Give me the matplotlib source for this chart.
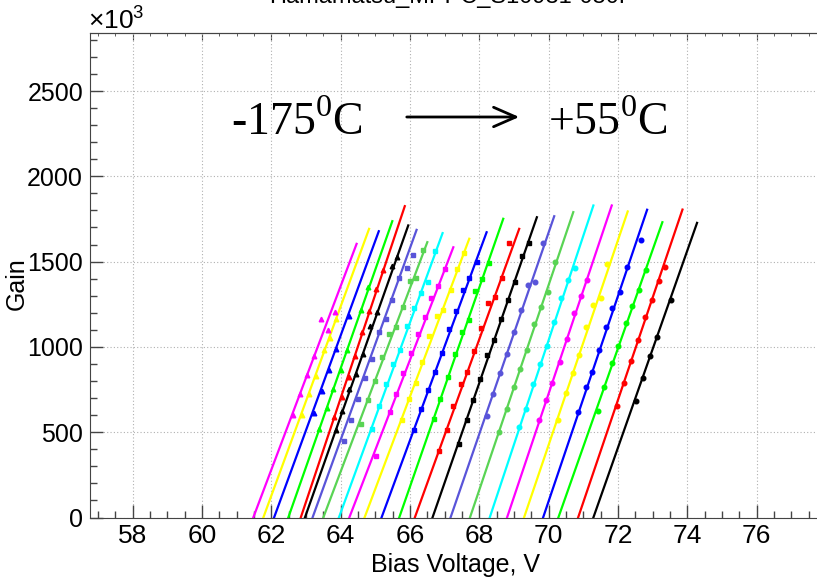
import matplotlib.pyplot as plt
from matplotlib.ticker import MultipleLocator
from matplotlib.patches import FancyArrowPatch

# Gain vs bias voltage, one straight-line fit per temperature (-175 C ... +55 C)
# gains are in units of 10^3

colors = ['#ff00ff', '#ffff00', '#0000ff', '#00ff00', '#ff0000', '#000000', '#5954d9', '#59d454', '#00ffff',
          '#ff00ff', '#ffff00', '#0000ff', '#00ff00', '#ff0000', '#000000', '#5954d9', '#59d454', '#00ffff',
          '#ff00ff', '#ffff00', '#0000ff', '#00ff00', '#ff0000', '#000000']
markers = ['^', '^', '^', '^', '^', '^', 's', 's', 's', 's', 's', 's', 's', 's', 's',
           'o', 'o', 'o', 'o', 'o', 'o', 'o', 'o', 'o']

# fit lines: breakdown voltage (gain = 0) and end point of the drawn fit
v_zero = [61.48, 61.77, 62.08, 62.49, 62.85, 62.97, 63.19, 63.50, 63.95, 64.25, 64.69, 65.18,
          65.69, 66.14, 66.65, 67.17, 67.73, 68.30, 68.80, 69.29, 69.84, 70.28, 70.85, 71.29]
v_top = [64.46, 64.82, 65.10, 65.49, 65.85, 65.95, 66.19, 66.50, 66.94, 67.25, 67.71, 68.21,
         68.69, 69.15, 69.66, 70.16, 70.71, 71.29, 71.82, 72.28, 72.84, 73.28, 73.86, 74.28]
g_top = [1604, 1692, 1678, 1737, 1825, 1712, 1686, 1614, 1667, 1584, 1634, 1672,
         1751, 1692, 1760, 1766, 1790, 1829, 1829, 1794, 1804, 1731, 1805, 1727]

# measured points
v_meas = [
    [62.63, 62.83, 63.04, 63.24, 63.42, 63.64, 63.84],
    [62.88, 63.09, 63.29, 63.52, 63.69, 63.86],
    [63.23, 63.45, 63.66, 63.86, 64.24],
    [63.38, 63.60, 63.79, 64.00, 64.19, 64.58, 64.80],
    [63.81, 64.03, 64.24, 64.42, 64.62, 64.82, 65.01, 65.21],
    [63.86, 64.05, 64.25, 64.44, 64.65, 64.84, 65.06, 65.49, 65.63],
    [64.09, 64.29, 64.49, 64.69, 64.89, 65.10, 65.30, 65.49, 65.69, 65.90, 66.08],
    [64.58, 64.78, 64.99, 65.19, 65.39, 65.59, 65.79, 66.00, 66.17, 66.38],
    [64.91, 65.11, 65.31, 65.52, 65.71, 65.90, 66.11, 66.32, 66.53, 66.72],
    [65.01, 65.42, 65.61, 65.81, 66.02, 66.22, 66.43, 66.62, 66.81, 67.01],
    [65.78, 65.97, 66.16, 66.36, 66.55, 66.79, 66.96, 67.17, 67.36, 67.56],
    [66.11, 66.32, 66.53, 66.72, 66.91, 67.12, 67.32, 67.52, 67.71, 67.92],
    [66.69, 66.88, 67.09, 67.29, 67.49, 67.69, 67.88, 68.08, 68.29],
    [66.84, 67.06, 67.25, 67.46, 67.65, 67.85, 68.05, 68.26, 68.45, 68.64, 68.85],
    [67.42, 67.63, 67.82, 68.03, 68.23, 68.42, 68.62, 68.82, 69.03, 69.22, 69.42],
    [68.21, 68.40, 68.60, 68.80, 69.01, 69.21, 69.41, 69.60, 69.83],
    [68.57, 68.79, 68.99, 69.18, 69.37, 69.58, 69.77, 69.97, 70.18],
    [69.15, 69.36, 69.56, 69.75, 69.94, 70.15, 70.35, 70.56, 70.76],
    [69.73, 69.92, 70.11, 70.32, 70.52, 70.73, 70.92, 71.12],
    [70.28, 70.49, 70.69, 70.88, 71.07, 71.29, 71.50, 71.69],
    [70.85, 71.07, 71.26, 71.46, 71.65, 71.84, 72.06, 72.25, 72.65],
    [71.41, 71.59, 71.82, 72.01, 72.22, 72.41, 72.61, 72.81],
    [71.96, 72.17, 72.37, 72.57, 72.78, 72.97, 73.17, 73.36],
    [72.51, 72.71, 72.92, 73.12, 73.52],
]
g_meas = [
    [598, 725, 836, 946, 1166, 1102, 1207],
    [598, 721, 827, 979, 1051, 1165],
    [611, 739, 862, 985, 1184],
    [520, 643, 754, 862, 983, 1219, 1350],
    [588, 705, 822, 945, 1090, 1213, 1340, 1448],
    [510, 627, 754, 842, 959, 1125, 1203, 1477, 1526],
    [447, 573, 696, 819, 930, 1086, 1165, 1272, 1405, 1464, 1536],
    [549, 686, 799, 940, 1077, 1115, 1233, 1389, 1403, 1569],
    [520, 651, 784, 901, 983, 1125, 1229, 1317, 1379, 1561],
    [363, 617, 725, 846, 963, 1073, 1174, 1285, 1356, 1458],
    [573, 696, 787, 910, 1063, 1184, 1217, 1336, 1454, 1549],
    [514, 637, 748, 852, 965, 1106, 1209, 1331, 1405, 1496],
    [579, 696, 826, 960, 1086, 1155, 1327, 1399, 1491],
    [389, 514, 651, 780, 852, 975, 1110, 1256, 1295, 1403, 1610],
    [428, 569, 690, 813, 950, 1038, 1165, 1276, 1379, 1530, 1608],
    [594, 725, 846, 960, 1086, 1219, 1360, 1383, 1610],
    [500, 637, 764, 873, 979, 1135, 1233, 1321, 1497],
    [529, 637, 784, 897, 1008, 1145, 1288, 1393, 1464],
    [569, 690, 787, 910, 1047, 1198, 1296, 1393],
    [569, 729, 846, 950, 1116, 1243, 1288, 1487],
    [617, 764, 852, 979, 1116, 1227, 1321, 1467, 1628],
    [627, 764, 904, 1008, 1139, 1239, 1336, 1448],
    [656, 790, 920, 1038, 1174, 1276, 1385, 1467],
    [682, 819, 944, 1057, 1276],
]

plt.rcParams['font.family'] = 'Liberation Sans'
plt.rcParams['mathtext.fontset'] = 'custom'
plt.rcParams['mathtext.rm'] = 'Liberation Serif'
plt.rcParams['mathtext.sf'] = 'Liberation Sans'

W, H = 817, 577
fig = plt.figure(figsize=(W / 100, H / 100), dpi=100)
ax = fig.add_axes([90 / W, 59.5 / H, 727 / W, 484.5 / H])

for i in range(len(v_zero)):
    ax.plot([v_zero[i], v_top[i]], [0, g_top[i]], color=colors[i], lw=1.6, zorder=3)
    ax.plot(v_meas[i], g_meas[i], ls='none', marker=markers[i], ms=3.3,
            color=colors[i], zorder=4)

ax.set_xlim(56.77, 77.74)
ax.set_ylim(0, 2840)
ax.xaxis.set_major_locator(MultipleLocator(2))
ax.xaxis.set_minor_locator(MultipleLocator(0.5))
ax.yaxis.set_major_locator(MultipleLocator(500))
ax.yaxis.set_minor_locator(MultipleLocator(100))
ax.tick_params(which='both', direction='in', top=False, right=False, color='#444444')
ax.tick_params(axis='x', labelsize=19)
ax.tick_params(axis='y', labelsize=18)
ax.tick_params(which='major', length=9.5, width=1, pad=5)
ax.tick_params(which='minor', length=5, width=1)
ax.grid(True, which='major', color='#b0b0b0', linestyle=(0, (1, 2)), lw=0.8)
ax.spines['right'].set_visible(False)
for s in ['left', 'bottom', 'top']:
    ax.spines[s].set_color('#444444')

# shorter ticks along the top edge
top = ax.secondary_xaxis('top')
top.xaxis.set_major_locator(MultipleLocator(2))
top.xaxis.set_minor_locator(MultipleLocator(0.5))
top.tick_params(which='both', direction='in', labeltop=False, color='#444444')
top.tick_params(which='major', length=5)
top.tick_params(which='minor', length=2.5)
top.spines['top'].set_color('#444444')

fig.text(455 / W, 1 - 572 / H, 'Bias Voltage, V', ha='center', va='baseline', fontsize=18)
fig.text(17 / W, 1 - 284 / H, 'Gain', rotation=90, ha='center', va='center', fontsize=18)
fig.text(88 / W, 1 - 30 / H, r'$\mathsf{\times10^{3}}$', ha='left', va='baseline', fontsize=19)
fig.text(452 / W, 1 - 3 / H, 'Hamamatsu_MPPC_S10931-050P', ha='center', va='baseline', fontsize=17)

# temperature direction
fig.text(231 / W, 1 - 135 / H, r'-175$^{0}$C', ha='left', va='baseline',
         fontsize=33, family='Liberation Serif')
fig.text(548 / W, 1 - 135 / H, r'+55$^{0}$C', ha='left', va='baseline',
         fontsize=33, family='Liberation Serif')
arrow = FancyArrowPatch((404 / W, 1 - 117 / H), (522 / W, 1 - 117 / H), transform=fig.transFigure,
                        arrowstyle='->,head_length=0.8,head_width=0.35', mutation_scale=20,
                        lw=2, color='black')
fig.add_artist(arrow)

fig.savefig('out.png', dpi=100)
